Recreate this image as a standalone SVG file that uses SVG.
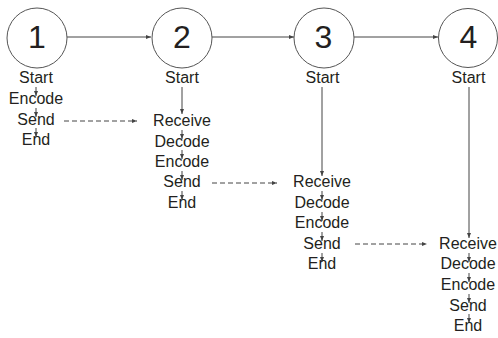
<svg xmlns="http://www.w3.org/2000/svg" width="498" height="338" viewBox="0 0 498 338">
<style>
.c{fill:#fff;stroke:#555;stroke-width:1}
.n{font-family:"Liberation Sans",Arial,sans-serif;font-size:32px;fill:#231f20;text-anchor:middle}
.t{font-family:"Liberation Sans",Arial,sans-serif;font-size:16px;fill:#231f20;text-anchor:middle}
.l{stroke:#444;stroke-width:1;fill:none}
.d{stroke:#444;stroke-width:1;fill:none;stroke-dasharray:5 3}
</style>
<defs>
<marker id="a" markerWidth="6" markerHeight="6" refX="5" refY="3" orient="auto" markerUnits="userSpaceOnUse">
<path d="M0,1 L5,3 L0,5 Z" fill="#444"/>
</marker>
</defs>
<g id="connectors">
<line class="l" x1="67" y1="37" x2="151" y2="37" marker-end="url(#a)"/>
<line class="l" x1="212" y1="37" x2="294" y2="37" marker-end="url(#a)"/>
<line class="l" x1="354" y1="37" x2="438" y2="37" marker-end="url(#a)"/>
<line class="d" x1="64" y1="121" x2="137" y2="121" marker-end="url(#a)"/>
<line class="d" x1="212" y1="183" x2="277" y2="183" marker-end="url(#a)"/>
<line class="d" x1="355" y1="244" x2="427" y2="244" marker-end="url(#a)"/>
<line class="l" x1="36" y1="87" x2="36" y2="96" marker-end="url(#a)"/>
<line class="l" x1="36" y1="108" x2="36" y2="117" marker-end="url(#a)"/>
<line class="l" x1="36" y1="128" x2="36" y2="137" marker-end="url(#a)"/>
<line class="l" x1="182" y1="87" x2="182" y2="114" marker-end="url(#a)"/>
<line class="l" x1="182" y1="130" x2="182" y2="139" marker-end="url(#a)"/>
<line class="l" x1="182" y1="150" x2="182" y2="159" marker-end="url(#a)"/>
<line class="l" x1="182" y1="171" x2="182" y2="180" marker-end="url(#a)"/>
<line class="l" x1="182" y1="191" x2="182" y2="200" marker-end="url(#a)"/>
<line class="l" x1="322" y1="87" x2="322" y2="176" marker-end="url(#a)"/>
<line class="l" x1="322" y1="191" x2="322" y2="200" marker-end="url(#a)"/>
<line class="l" x1="322" y1="212" x2="322" y2="221" marker-end="url(#a)"/>
<line class="l" x1="322" y1="232" x2="322" y2="241" marker-end="url(#a)"/>
<line class="l" x1="322" y1="253" x2="322" y2="262" marker-end="url(#a)"/>
<line class="l" x1="469" y1="87" x2="469" y2="238" marker-end="url(#a)"/>
<line class="l" x1="469" y1="253" x2="469" y2="262" marker-end="url(#a)"/>
<line class="l" x1="469" y1="273" x2="469" y2="282" marker-end="url(#a)"/>
<line class="l" x1="469" y1="294" x2="469" y2="303" marker-end="url(#a)"/>
<line class="l" x1="469" y1="314" x2="469" y2="323" marker-end="url(#a)"/>
</g>
<g id="node1">
<circle class="c" cx="37" cy="38" r="30"/>
<text class="n" x="37" y="48">1</text>
<text class="t" x="36" y="83">Start</text>
<text class="t" x="36" y="104">Encode</text>
<text class="t" x="36" y="125">Send</text>
<text class="t" x="36" y="145">End</text>
</g>
<g id="node2">
<circle class="c" cx="182" cy="38" r="30"/>
<text class="n" x="182" y="48">2</text>
<text class="t" x="182" y="83">Start</text>
<text class="t" x="182" y="126">Receive</text>
<text class="t" x="182" y="147">Decode</text>
<text class="t" x="182" y="167">Encode</text>
<text class="t" x="182" y="187">Send</text>
<text class="t" x="182" y="208">End</text>
</g>
<g id="node3">
<circle class="c" cx="324" cy="38" r="30"/>
<text class="n" x="323.5" y="48">3</text>
<text class="t" x="322.5" y="83">Start</text>
<text class="t" x="322" y="187">Receive</text>
<text class="t" x="322" y="208">Decode</text>
<text class="t" x="322" y="228">Encode</text>
<text class="t" x="322" y="249">Send</text>
<text class="t" x="322" y="269">End</text>
</g>
<g id="node4">
<circle class="c" cx="468" cy="38" r="29.5"/>
<text class="n" x="468.5" y="48">4</text>
<text class="t" x="468.5" y="83">Start</text>
<text class="t" x="468" y="249">Receive</text>
<text class="t" x="468" y="269">Decode</text>
<text class="t" x="468" y="290">Encode</text>
<text class="t" x="468" y="311">Send</text>
<text class="t" x="468" y="331">End</text>
</g>
</svg>
